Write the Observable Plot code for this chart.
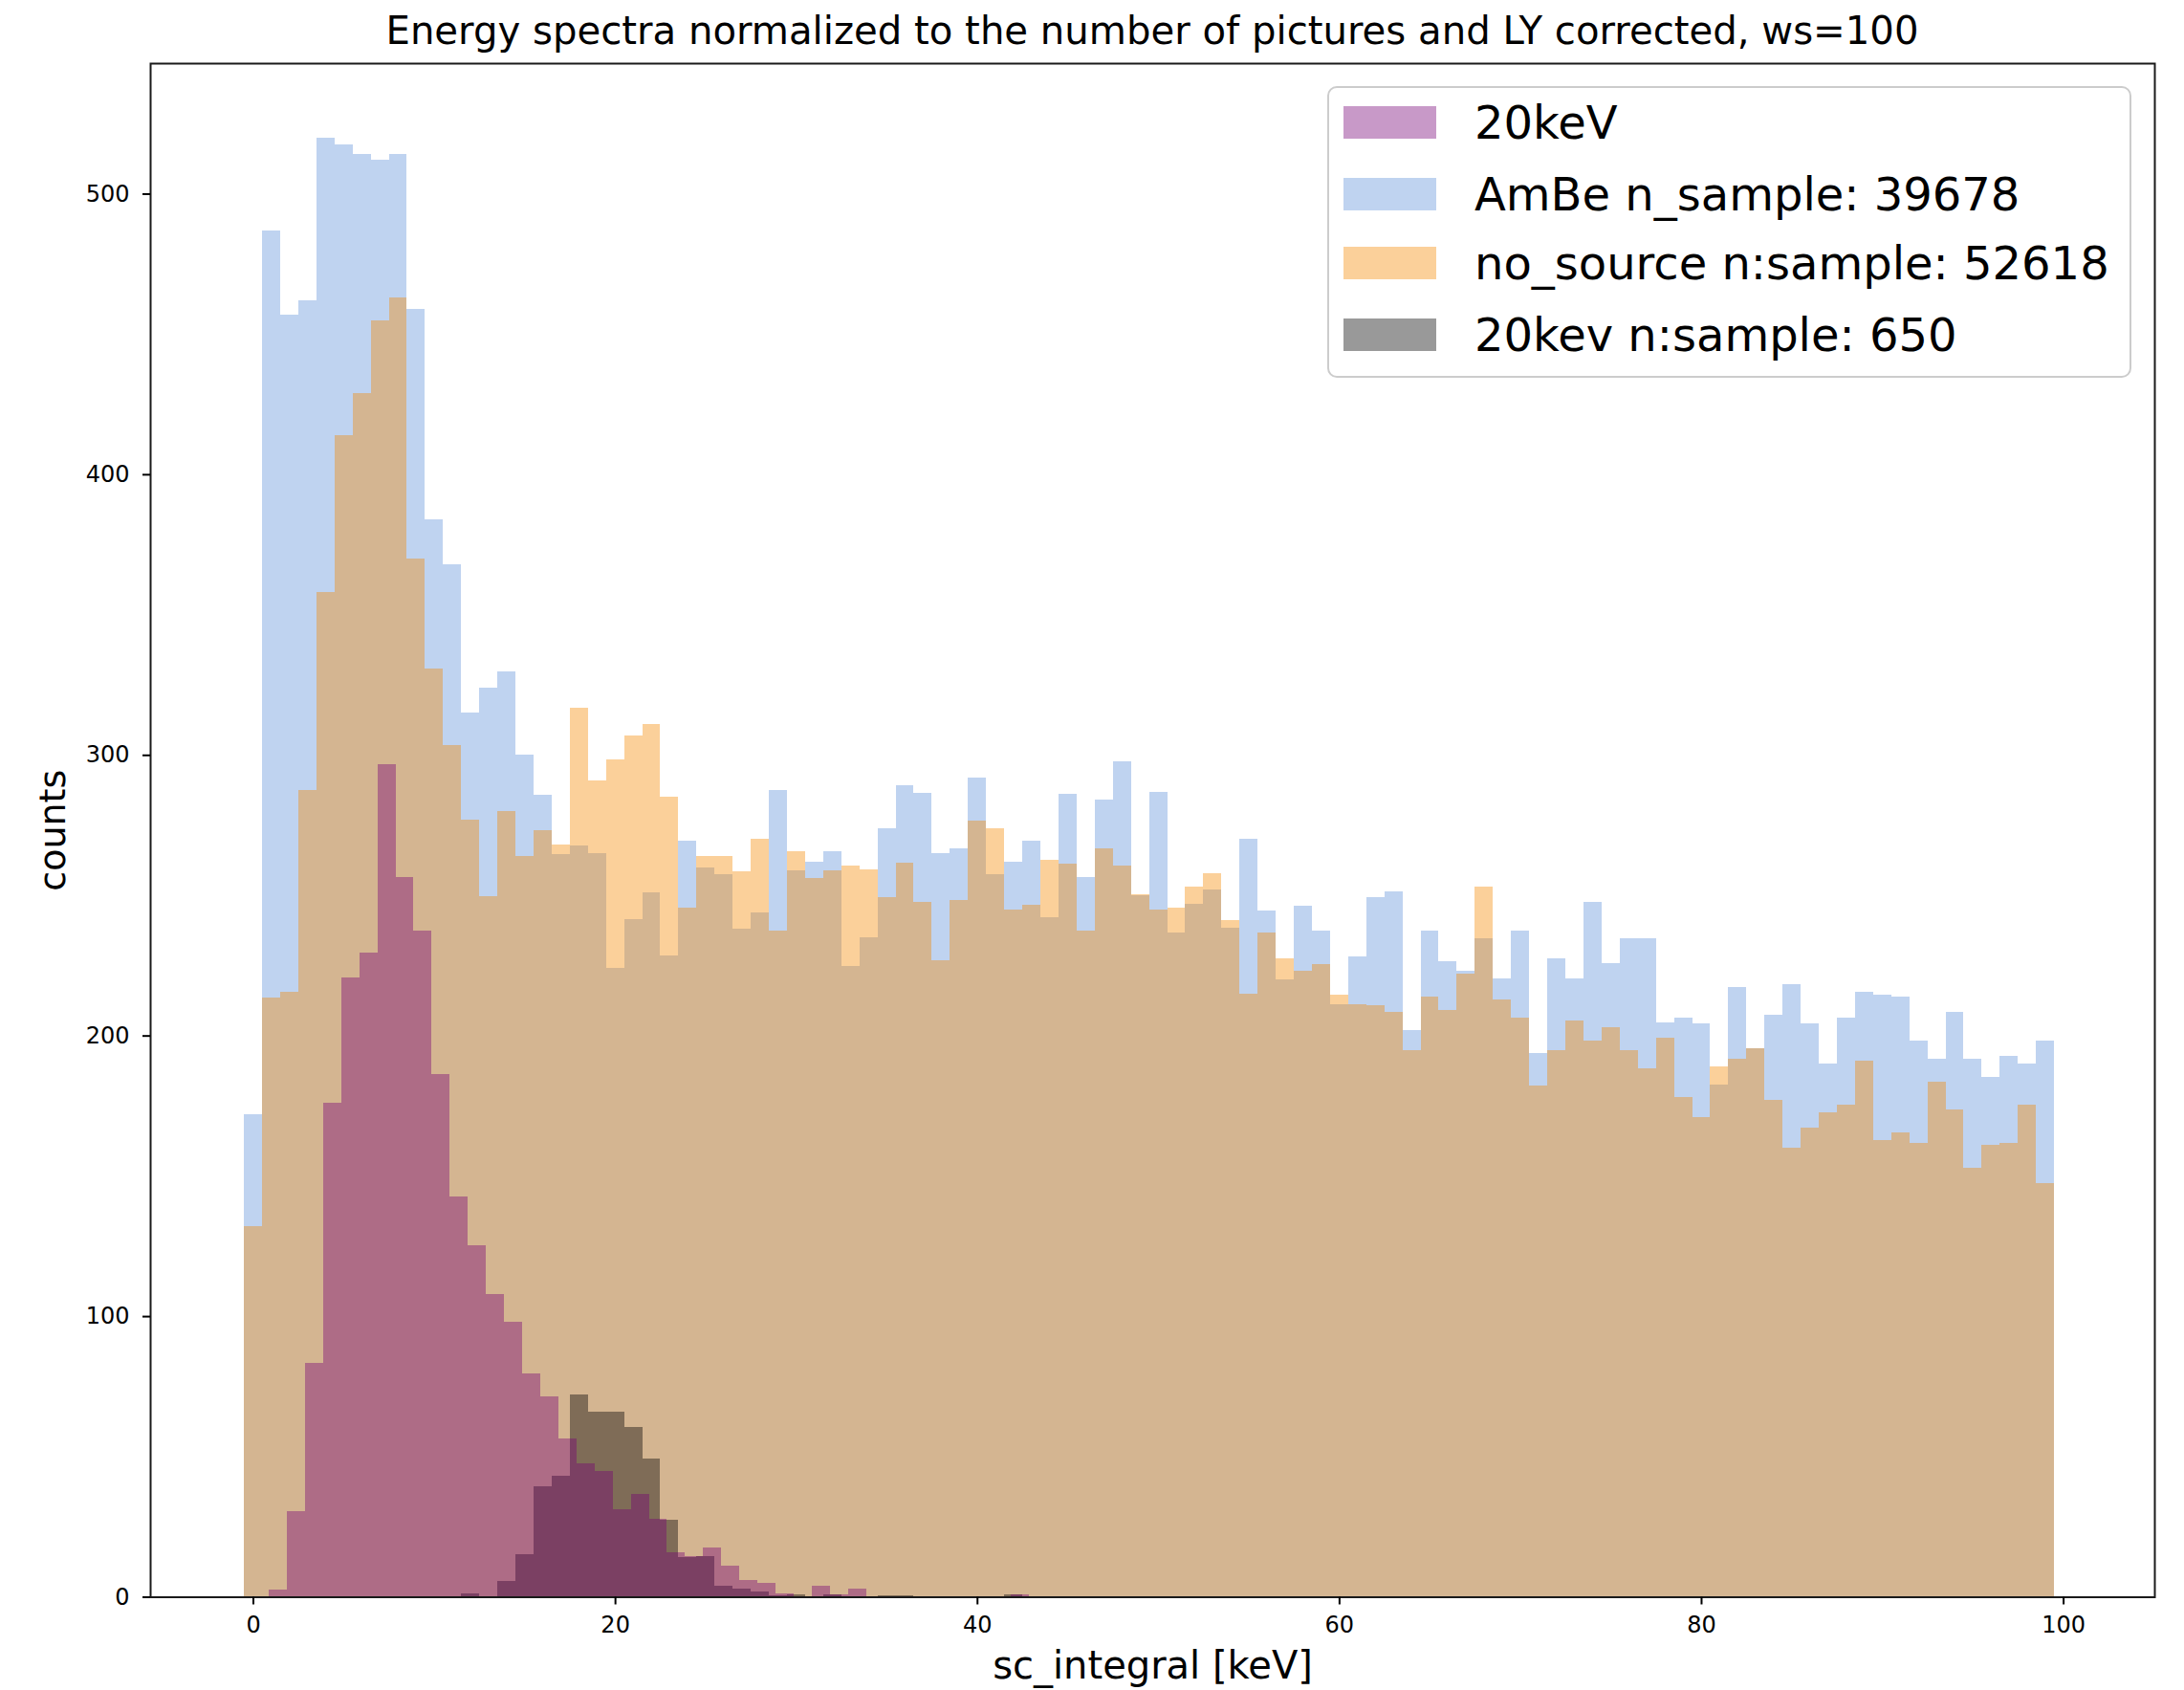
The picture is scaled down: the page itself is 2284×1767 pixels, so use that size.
<!DOCTYPE html>
<html>
<head>
<meta charset="utf-8">
<script src="https://cdn.jsdelivr.net/npm/d3@7"></script>
<script src="https://cdn.jsdelivr.net/npm/@observablehq/plot@0.6"></script>
<style>
  html, body { margin: 0; padding: 0; background: #fff; }
  #figure { position: relative; width: 2284px; height: 1767px; font-family: "DejaVu Sans", sans-serif; color: #000; }
  #title { height: 64px; line-height: 64px; padding: 0 31px 0 157px; text-align: center; font-size: 40.2px; white-space: nowrap; }
  #legend { position: absolute; left: 1388px; top: 89.5px; width: 841px; height: 305.5px; box-sizing: border-box;
            border: 2px solid #cccccc; border-radius: 10px; background: rgba(255,255,255,0.8); }
  .row { position: absolute; left: 0; height: 74px; display: flex; align-items: center; font-size: 48px; white-space: nowrap; }
  .swatch { width: 97px; height: 34px; margin-left: 15px; margin-right: 40px; }
  svg { display: block; }
</style>
</head>
<body>
<div id="figure">
  <div id="title">Energy spectra normalized to the number of pictures and LY corrected, ws=100</div>
  <div id="chart"></div>
  <div id="legend"></div>
</div>
<script>
// Histogram counts per 1 keV bin.
// AmBe and no_source share bins starting at -0.5 keV.
const ambeCounts = [
  171.8, 487, 457, 462, 520, 517.7, 514, 512, 514, 459,
  384, 368, 315, 324, 329.6, 300, 285.7, 264.5, 267.6, 265,
  224, 241.5, 251, 228.6, 269.4, 260, 257.6, 238, 243.8, 287.6,
  259, 262, 265.8, 224.8, 235, 274, 289.2, 286.6, 265, 266.7,
  292, 257.5, 262, 269.4, 242, 286, 256.5, 284, 297.6, 250,
  286.7, 236.7, 247, 252, 238.4, 270.2, 244.7, 220, 246.4, 237.4,
  211, 228.3, 249.3, 251.2, 201.8, 237.4, 226.6, 222.9, 234.7, 220.3,
  237.4, 193.6, 227.6, 220.3, 247.5, 225.7, 234.7, 234.7, 204.6, 206.3,
  204.4, 182.5, 217.3, 195.5, 207.4, 218.4, 204.4, 190, 206.3, 215.5,
  214.6, 213.7, 198.2, 191.8, 208.3, 191.8, 185.4, 192.7, 190, 198.2
];
const noSourceCounts = [
  132, 213.5, 215.5, 287.6, 358, 414, 429, 454.7, 463, 370,
  330.6, 303.5, 277, 249.6, 280, 264, 273, 268, 316.7, 291,
  298.3, 306.8, 311, 285, 245.6, 264, 264, 258.5, 270, 237.4,
  265.8, 256, 259, 260.4, 259.3, 249.4, 261.6, 247.5, 226.7, 248.4,
  276.5, 274, 245, 246.6, 262.7, 261.2, 237.4, 266.7, 260.5, 250.5,
  245, 245.7, 253, 257.7, 241, 215, 236.7, 227.5, 223, 225.5,
  214.6, 211, 210.9, 208.4, 194.7, 213.8, 209.2, 222, 253, 212.8,
  206.5, 182, 194.7, 205.5, 198.3, 202.8, 194.7, 188.3, 199.2, 178.2,
  171, 189, 191.8, 195.6, 177.2, 160, 167.2, 172.7, 175.3, 190.9,
  162.6, 165.3, 161.8, 183.7, 173.6, 152.7, 160.9, 161.8, 175.4, 147.3
];
// 20keV sample (purple): its own bins start at 0.87 keV.
const kev20Counts = [
  2.7, 30.4, 83.5, 176, 220.6, 229.4, 296.7, 256.5, 237.5, 186.4,
  142.5, 125.2, 107.8, 98, 79.5, 71.3, 56.5, 47.6, 44.9, 31.3,
  36.7, 27.8, 16, 14.5, 17.6, 11.2, 6.1, 4.8, 1.2, 0,
  4, 0.8, 2.8, 0, 0, 0, 0, 0, 0, 0,
  0, 0.8
];
// 20kev n:sample 650 (grey): bins start at -0.5 keV.
const kev20GreyCounts = [
  0, 0, 0, 0, 0, 0, 0, 0, 0, 0,
  0, 0, 1.1, 0, 5.7, 15, 39.3, 43.1, 72.2, 65.8,
  65.8, 60.5, 49.4, 27.4, 14, 14.5, 4, 2.8, 2, 0.5,
  0.8, 0, 0.8, 0, 0, 0.6, 0.6, 0, 0, 0,
  0, 0, 0.8
];

const seriesLabels = ["20keV", "AmBe n_sample: 39678", "no_source n:sample: 52618", "20kev n:sample: 650"];
const seriesColors = ["#750075", "#5f91d9", "#f58a03", "#000000"];
const xTicks = [0, 20, 40, 60, 80, 100];
const yTicks = [0, 100, 200, 300, 400, 500];

const MAIN_START = -0.5, KEV20_START = 0.87, BIN_WIDTH = 1;
const ALPHA = 0.4;

// Turn a list of counts into rect rows with bin edges.
function bins(counts, start, width) {
  return counts.map((c, i) => ({x1: start + i * width, x2: start + (i + 1) * width, count: c}));
}

function hist(counts, start, color) {
  return Plot.rectY(bins(counts, start, BIN_WIDTH), {
    x1: "x1", x2: "x2", y1: 0, y2: "count",
    fill: color, fillOpacity: ALPHA, shapeRendering: "crispEdges"
  });
}

const chart = Plot.plot({
  width: 2284,
  height: 1703,
  marginLeft: 157,
  marginRight: 31,
  marginTop: 2,
  marginBottom: 97.5,
  style: {fontFamily: "'DejaVu Sans', sans-serif", fontSize: "24px", color: "#000", background: "#fff", overflow: "visible"},
  x: {domain: [-5.68, 105.04]},
  y: {domain: [0, 546.5]},
  marks: [
    hist(ambeCounts, MAIN_START, seriesColors[1]),
    hist(noSourceCounts, MAIN_START, seriesColors[2]),
    hist(kev20GreyCounts, MAIN_START, seriesColors[3]),
    hist(kev20Counts, KEV20_START, seriesColors[0]),
    Plot.frame({stroke: "#1a1a1a", strokeWidth: 2}),
    Plot.axisX({ticks: xTicks, tickSize: 8, tickPadding: 12, strokeWidth: 2, label: null, fontSize: 24}),
    Plot.axisY({ticks: yTicks, tickSize: 8, tickPadding: 14, strokeWidth: 2, label: null, fontSize: 24}),
    Plot.text(["sc_integral [keV]"], {text: d => d, frameAnchor: "bottom", dy: 72.5, fontSize: 40, textAnchor: "middle", lineAnchor: "middle"}),
    Plot.text(["counts"], {text: d => d, frameAnchor: "left", dx: -102, rotate: -90, fontSize: 38, textAnchor: "middle", lineAnchor: "middle"})
  ]
});
document.getElementById("chart").appendChild(chart);

// Legend: patch + label per series, in the order the labels were given.
const legend = document.getElementById("legend");
const rowTops = [-0.5, 74, 146.5, 221];
seriesLabels.forEach((label, i) => {
  const row = document.createElement("div");
  row.className = "row";
  row.style.top = rowTops[i] + "px";
  const sw = document.createElement("div");
  sw.className = "swatch";
  const c = d3.rgb(seriesColors[i]);
  sw.style.background = `rgba(${c.r},${c.g},${c.b},${ALPHA})`;
  const tx = document.createElement("span");
  tx.textContent = label;
  row.appendChild(sw);
  row.appendChild(tx);
  legend.appendChild(row);
});
</script>
</body>
</html>
